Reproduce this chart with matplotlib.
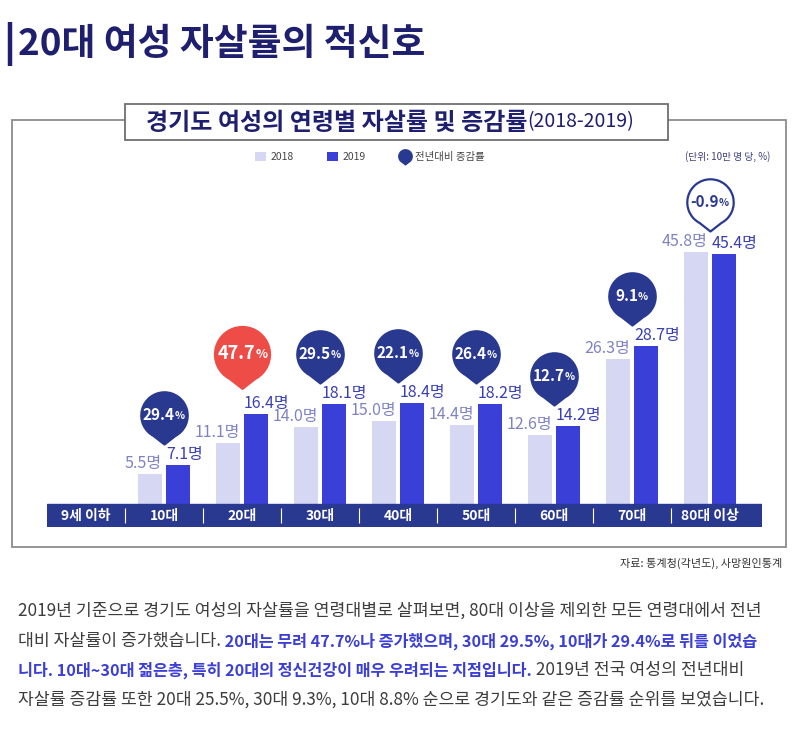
import numpy as np
import matplotlib
matplotlib.use('Agg')
import matplotlib.pyplot as plt
from matplotlib.path import Path
from matplotlib.patches import Rectangle, Patch
from matplotlib.lines import Line2D

plt.rcParams['font.family'] = ['Noto Sans CJK KR', 'DejaVu Sans']

# --- data (인구 10만 명 당 자살률, 전년대비 증감률 %) ---
ages = ['9세 이하', '10대', '20대', '30대', '40대', '50대', '60대', '70대', '80대 이상']
rate_2018 = [np.nan, 5.5, 11.1, 14.0, 15.0, 14.4, 12.6, 26.3, 45.8]
rate_2019 = [np.nan, 7.1, 16.4, 18.1, 18.4, 18.2, 14.2, 28.7, 45.4]
change = [np.nan, 29.4, 47.7, 29.5, 22.1, 26.4, 12.7, 9.1, -0.9]

title = '20대 여성 자살률의 적신호'
subtitle = '경기도 여성의 연령별 자살률 및 증감률'
subtitle_years = '(2018-2019)'
unit_note = '(단위: 10만 명 당, %)'
source = '자료: 통계청(각년도), 사망원인통계'
body = [
    [('2019년 기준으로 경기도 여성의 자살률을 연령대별로 살펴보면, 80대 이상을 제외한 모든 연령대에서 전년', 0)],
    [('대비 자살률이 증가했습니다.', 0),
     (' 20대는 무려 47.7%나 증가했으며, 30대 29.5%, 10대가 29.4%로 뒤를 이었습', 1)],
    [('니다. 10대~30대 젊은층, 특히 20대의 정신건강이 매우 우려되는 지점입니다.', 1),
     (' 2019년 전국 여성의 전년대비', 0)],
    [('자살률 증감률 또한 20대 25.5%, 30대 9.3%, 10대 8.8% 순으로 경기도와 같은 증감률 순위를 보였습니다.', 0)],
]

# --- colours ---
TITLE_C = '#1e1f6e'
NAVY = '#2a3990'
C18 = '#d5d7f3'
C19 = '#3a3fd8'
RED = '#ee4c47'
LAB18 = '#7f83c2'
LAB19 = '#3a3fb3'
GRAY = '#3d3d3d'
BLUE_TXT = '#3b3fd6'
LABEL_FONT = ['Liberation Sans Narrow', 'Noto Sans CJK KR']

W, H = 800, 731
fig = plt.figure(figsize=(W / 100, H / 100), dpi=100)

# background axes in pixel coordinates for the frame / text
bg = fig.add_axes([0, 0, 1, 1])
bg.set_xlim(0, W)
bg.set_ylim(H, 0)
bg.axis('off')


def teardrop(gap=28, tip=1.25):
    arc = Path.arc(-90 + gap, 270 - gap)
    verts = np.vstack([arc.vertices, [[0, -tip]], [arc.vertices[0]]])
    codes = np.concatenate([arc.codes, [Path.LINETO, Path.CLOSEPOLY]])
    return Path(verts, codes)


DROP = teardrop()

# title
bg.plot([10, 10], [22, 66], color=TITLE_C, lw=3.2, solid_capstyle='butt')
bg.text(18, 44, title, fontsize=26.5, fontweight='bold', color=TITLE_C, va='center', ha='left')

# outer frame + subtitle box
bg.add_patch(Rectangle((12, 120), 774, 427, fill=False, ec='#8c8c8c', lw=1.3))
bg.add_patch(Rectangle((125, 104), 543, 36, fc='white', ec='#6e6e6e', lw=1.3, zorder=3))
st = bg.text(146, 123, subtitle, fontsize=17.3, fontweight='bold', color=TITLE_C,
             va='center', ha='left', zorder=4)
bg.annotate(subtitle_years, xy=(1, 0.1), xycoords=st, va='bottom', ha='left',
            fontsize=14, color=TITLE_C, zorder=4)

bg.text(770, 157, unit_note, fontsize=7, color='#3a3f7a', ha='right', va='center')
bg.text(782, 563, source, fontsize=8, color='#333333', ha='right', va='center')

# body paragraph
for k, line in enumerate(body):
    y = 620 + k * 29.7
    prev = None
    for seg, hl in line:
        kw = dict(fontsize=11.7 if hl else 12.4, color=BLUE_TXT if hl else GRAY,
                  fontweight='bold' if hl else 'normal', ha='left', va='bottom')
        if prev is None:
            prev = bg.text(18, y, seg, **kw)
        else:
            prev = bg.annotate(seg, xy=(1, 0), xycoords=prev, **kw)

# --- chart axes ---
PX = 5.507        # pixels per rate unit
BASE = 504        # baseline (px from top)
BAND = 23         # category band height (px)
TOP = 175
ax = fig.add_axes([47 / W, 1 - (BASE + BAND) / H, (762 - 47) / W, (BASE + BAND - TOP) / H])
ax.patch.set_visible(False)
ax.set_xlim(-0.5, 8 + 52 / 78)
ax.set_ylim(-BAND / PX, (BASE - TOP) / PX)
ax.axis('off')

x = np.arange(len(ages))
bw = 24 / 78
off = 14 / 78
ax.bar(x - off, rate_2018, bw, color=C18, zorder=2)
ax.bar(x + off, rate_2019, bw, color=C19, zorder=2)

# category band
ax.axhspan(-BAND / PX, 0, color=NAVY, zorder=3)
ax.vlines(x[:-1] + 0.5, -BAND / PX * 0.82, -BAND / PX * 0.18, colors='white', lw=0.8, zorder=4)
for i, a in enumerate(ages):
    ax.text(i, -BAND / PX / 2, a, color='white', fontsize=10, fontweight='bold',
            ha='center', va='center', zorder=5)

for i in x:
    v18, v19, ch = rate_2018[i], rate_2019[i], change[i]
    if np.isnan(v18):
        continue
    ax.annotate(f'{v18:.1f}명', (i - off + bw / 2, v18), xytext=(0, 1.5), textcoords='offset points',
                ha='right', va='bottom', color=LAB18, fontsize=11.5, family=LABEL_FONT)
    ax.annotate(f'{v19:.1f}명', (i + off - bw / 2, v19), xytext=(0, 1.5), textcoords='offset points',
                ha='left', va='bottom', color=LAB19, fontsize=11.5, family=LABEL_FONT)

    big = ch == np.nanmax(change)
    neg = ch < 0
    R = 27.5 if big else 23.2
    lift = 60 if big else 50
    yc = max(v18, v19) + lift / PX
    fc = RED if big else ('white' if neg else NAVY)
    ax.plot(i, yc, marker=DROP, ms=2.5 * R * 0.72, mfc=fc,
            mec=NAVY if neg else fc, mew=1.6, ls='none', zorder=6, clip_on=False)
    tc = NAVY if neg else 'white'
    num = ax.annotate(f'{ch:.1f}', (i, yc), xytext=(-4, 0), textcoords='offset points',
                      ha='center', va='center', color=tc, fontweight='bold',
                      fontsize=13 if big else 11, family=LABEL_FONT, zorder=7)
    ax.annotate('%', xy=(1, 0.12), xycoords=num, ha='left', va='bottom', color=tc,
                fontsize=9 if big else 7.5, fontweight='bold', zorder=7)

# legend
handles = [Patch(fc=C18), Patch(fc=C19),
           Line2D([], [], marker=DROP, ms=12, mfc=NAVY, mec=NAVY, ls='none')]
fig.legend(handles, ['2018', '2019', '전년대비 증감률'], loc='center',
           bbox_to_anchor=(370 / W, 1 - 157 / H), ncol=3, frameon=False, fontsize=7.5,
           handlelength=1.0, handleheight=1.0, handletextpad=0.5, columnspacing=3.2,
           labelcolor='#444444')

fig.savefig('out.png', dpi=100, facecolor='white')
